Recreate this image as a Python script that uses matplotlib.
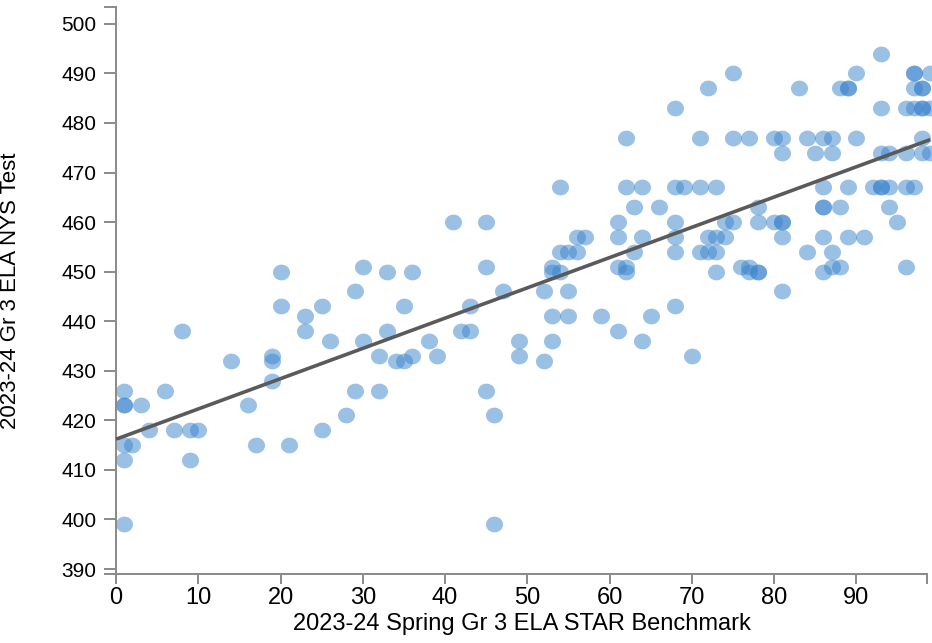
import numpy as np
import matplotlib
matplotlib.use("Agg")
import matplotlib.pyplot as plt
from matplotlib.path import Path
from matplotlib import font_manager

# ---------------- data ----------------
star_pct = [
    1, 1, 1, 1, 2, 1, 1, 3, 4, 6, 7, 8, 9, 10, 9, 14, 16, 17, 19, 19, 19, 20, 20, 21,
    23, 23, 25, 25, 26, 28, 29, 29, 30, 30, 32, 32, 33, 33, 34, 35, 35, 36, 36, 38, 39,
    41, 42, 43, 43, 45, 45, 45, 46, 46, 47, 49, 49, 52, 52, 53, 53, 54, 53, 53, 54, 54,
    55, 56, 55, 55, 56, 57, 59, 61, 61, 61, 62, 62, 61, 62, 62, 63, 64, 64, 63, 64, 65,
    66, 68, 68, 69, 68, 68, 68, 68, 70, 71, 71, 71, 72, 73, 72, 73, 74, 72, 73, 73, 74,
    75, 75, 75, 76, 77, 77, 78, 78, 77, 78, 78, 80, 81, 81, 80, 81, 81, 81, 81, 83, 84,
    85, 86, 87, 87, 86, 86, 86, 88, 89, 86, 89, 91, 84, 87, 86, 87, 88, 88, 89, 90, 89,
    90, 93, 93, 92, 93, 93, 94, 93, 94, 94, 95, 96, 97, 96, 96, 96, 97, 98, 98, 99, 97,
    97, 99, 97, 98, 98, 98, 98, 99,
]
nys_score = [
    426, 423, 423, 415, 415, 412, 399, 423, 418, 426, 418, 438, 418, 418, 412, 432, 423,
    415, 433, 432, 428, 450, 443, 415, 441, 438, 443, 418, 436, 421, 446, 426, 451, 436,
    433, 426, 450, 438, 432, 432, 443, 450, 433, 436, 433, 460, 438, 438, 443, 460, 451,
    426, 421, 399, 446, 436, 433, 432, 446, 451, 450, 450, 441, 436, 467, 454, 454, 454,
    446, 441, 457, 457, 441, 460, 457, 451, 451, 450, 438, 477, 467, 463, 467, 457, 454,
    436, 441, 463, 483, 467, 467, 460, 457, 454, 443, 433, 477, 467, 454, 454, 454, 457,
    457, 457, 487, 467, 450, 460, 460, 490, 477, 451, 451, 450, 450, 450, 477, 463, 460,
    477, 477, 474, 460, 460, 460, 457, 446, 487, 477, 474, 477, 477, 474, 467, 463, 463,
    463, 467, 457, 457, 457, 454, 454, 450, 451, 451, 487, 487, 490, 487, 477, 494, 483,
    467, 467, 467, 467, 474, 474, 463, 460, 467, 467, 474, 451, 483, 483, 483, 483, 483,
    490, 490, 490, 487, 487, 487, 477, 474, 474,
]
x_ticks = [0, 10, 20, 30, 40, 50, 60, 70, 80, 90]
y_ticks = [390, 400, 410, 420, 430, 440, 450, 460, 470, 480, 490, 500]
x_label = "2023-24 Spring Gr 3 ELA STAR Benchmark"
y_label = "2023-24 Gr 3 ELA NYS Test"

x_arr = np.array(star_pct, dtype=float)
y_arr = np.array(nys_score, dtype=float)
slope, intercept = np.polyfit(x_arr, y_arr, 1)

# ---------------- fonts ----------------
names = {f.name for f in font_manager.fontManager.ttflist}
narrow = "Liberation Sans Narrow" if "Liberation Sans Narrow" in names else "Liberation Sans"
regular = "Liberation Sans"

# ---------------- figure ----------------
W, H = 932, 643
fig = plt.figure(figsize=(W / 100, H / 100), dpi=100)
ax_left, ax_right = 116 / W, 927 / W
ax_bottom, ax_top = 1 - 574 / H, 1 - 7 / H
ax = fig.add_axes([ax_left, ax_bottom, ax_right - ax_left, ax_top - ax_bottom])

XMAX = 98.6
YMIN, YMAX = 389.0, 503.4
ax.set_xlim(0, XMAX)
ax.set_ylim(YMIN, YMAX)

# ellipse marker (slightly wider than tall)
t = np.linspace(0, 2 * np.pi, 64)
ell = Path(np.column_stack([1.08 * np.cos(t), np.sin(t)]), closed=True)

ax.scatter(x_arr, y_arr, s=150, marker=ell, color="#3d86cd", alpha=0.52,
           linewidths=0, clip_on=False, zorder=2)

xl = np.array([0, 99])
ax.plot(xl, intercept + slope * xl, color="#5a5a5a", lw=2.6, zorder=3,
        solid_capstyle="butt", clip_on=False)

for s in ["top", "right"]:
    ax.spines[s].set_visible(False)
for s in ["left", "bottom"]:
    ax.spines[s].set_color("#8a8a8a")
    ax.spines[s].set_linewidth(1.4)

ax.set_xticks(x_ticks)
ax.set_yticks(y_ticks)
ax.set_xticks([XMAX], minor=True)
ax.set_yticks([YMIN, YMAX], minor=True)
ax.tick_params(which="both", color="#8a8a8a", width=1.4)
ax.tick_params(axis="y", which="both", length=9)
ax.tick_params(axis="y", labelsize=15, pad=5)
ax.tick_params(axis="x", which="both", length=7.5)
ax.tick_params(axis="x", labelsize=17, pad=2)
for lab in ax.get_yticklabels():
    lab.set_fontfamily(regular)
for lab in ax.get_xticklabels():
    lab.set_fontfamily(narrow)

ax.set_xlabel(x_label, fontsize=17, fontfamily=narrow, labelpad=3)
ax.set_ylabel(y_label, fontsize=16, fontfamily=narrow)
ax.yaxis.set_label_coords((21 - 116) / (927 - 116), 0.5)

fig.savefig("out.png", dpi=100)
